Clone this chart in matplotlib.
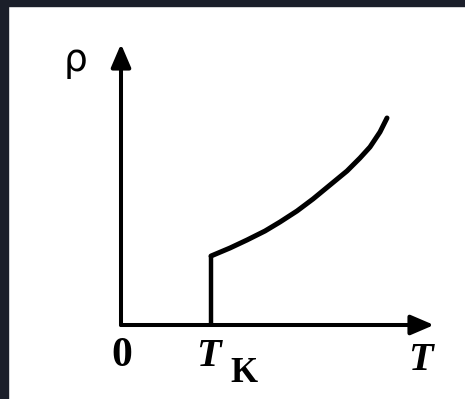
import matplotlib

matplotlib.use("Agg")
import matplotlib.pyplot as plt
from matplotlib.patches import Rectangle

# resistivity vs temperature of a superconductor (arbitrary units)
t_crit = 9.0
rho_jump = 6.9
t_curve = [9.0, 10.9, 12.6, 14.4, 15.9, 17.6, 19.2, 20.9, 22.6, 23.9, 24.9, 25.9, 26.6]
rho_curve = [6.9, 7.7, 8.5, 9.4, 10.3, 11.4, 12.6, 14.0, 15.4, 16.7, 17.8, 19.3, 20.7]
t_axis_end = 31.3
rho_axis_end = 28.1

fig = plt.figure(figsize=(4.65, 3.99), dpi=100)
ax = fig.add_axes([0, 0, 1, 1])
ax.set_xlim(-12.1, 34.4)
ax.set_ylim(-7.4, 32.5)
ax.axis("off")

# dark frame on top/left (scan border)
border = "#1b1f2a"
fig.patches.append(Rectangle((0, 0), 8 / 465, 1, transform=fig.transFigure, color=border))
fig.patches.append(Rectangle((0, 1 - 6 / 399), 1, 6 / 399, transform=fig.transFigure, color=border))

arrow = dict(arrowstyle="-|>,head_length=1.4,head_width=0.6", lw=2.9, color="black",
             shrinkA=0, shrinkB=0)
ax.annotate("", xy=(t_axis_end, 0), xytext=(0, 0), arrowprops=arrow)
ax.annotate("", xy=(0, rho_axis_end), xytext=(0, 0), arrowprops=arrow)

ax.plot([t_crit, t_crit], [0, rho_jump], color="black", lw=3.2, solid_capstyle="butt")
ax.plot(t_curve, rho_curve, color="black", lw=3.6, solid_joinstyle="round",
        solid_capstyle="round")

ax.text(-4.6, 26.4, "ρ", fontsize=27, ha="center", va="center", family="DejaVu Sans")
ax.text(0.1, -3.1, "0", fontsize=30, ha="center", va="center", family="Liberation Serif",
        fontweight="bold")
ax.text(8.7, -3.2, "T", fontsize=29, ha="center", va="center", family="Liberation Serif",
        fontweight="bold", fontstyle="italic")
ax.text(12.3, -4.9, "K", fontsize=25, ha="center", va="center", family="Liberation Serif",
        fontweight="bold")
ax.text(29.9, -3.5, "T", fontsize=29, ha="center", va="center", family="Liberation Serif",
        fontweight="bold", fontstyle="italic")

fig.savefig("out.png", dpi=100)
